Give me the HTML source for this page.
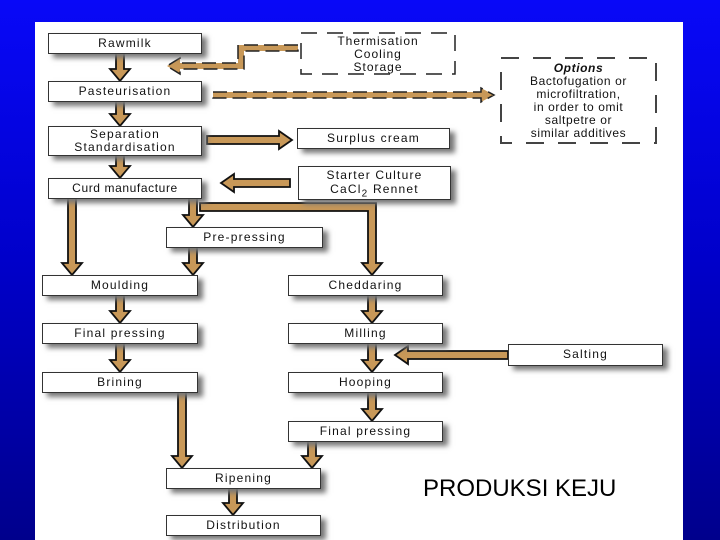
<!DOCTYPE html>
<html><head><meta charset="utf-8"><style>
html,body{margin:0;padding:0}
body{width:720px;height:540px;overflow:hidden;background:linear-gradient(#0808f8,#0000c8 50%,#00008c);position:relative;font-family:"Liberation Sans",sans-serif}
#panel{position:absolute;left:35px;top:22px;width:648px;height:518px;background:#fff}
.b{position:absolute;background:#fff;border:1.5px solid #333;box-shadow:5px 4px 5px #777;font-size:12px;letter-spacing:1.2px;text-align:center;line-height:19px;color:#111;box-sizing:border-box}
.d{position:absolute;font-size:12px;letter-spacing:1px;text-align:center;color:#111;line-height:13px}
svg{position:absolute;left:0;top:0}
</style></head><body>
<div id="panel"></div>
<svg width="720" height="540">
<g fill="#c89858" stroke="#111" stroke-width="1.8">
<path d="M116 53h8v16h6l-10 12-10-12h6z"/>
<path d="M116 101h8v13h6l-10 12-10-12h6z"/>
<path d="M116 155h8v11h6l-10 12-10-12h6z"/>
<path d="M68 198h8v65h6l-10 12-10-12h6z"/>
<path d="M189 198h8v17h6l-10 12-10-12h6z"/>
<path d="M189 247h8v16h6l-10 12-10-12h6z"/>
<path d="M200 203h176v60h6l-10 12-10-12h6v-52h-168z"/>
<path d="M116 295h8v16h6l-10 12-10-12h6z"/>
<path d="M116 343h8v17h6l-10 12-10-12h6z"/>
<path d="M178 392h8v64h6l-10 12-10-12h6z"/>
<path d="M368 295h8v16h6l-10 12-10-12h6z"/>
<path d="M368 343h8v17h6l-10 12-10-12h6z"/>
<path d="M368 392h8v17h6l-10 12-10-12h6z"/>
<path d="M308 441h8v15h6l-10 12-10-12h6z"/>
<path d="M229 488h8v15h6l-10 12-10-12h6z"/>
<path d="M207 136h72v-5l13 9-13 9v-5h-72z"/>
<path d="M290 179h-56v-5l-13 9 13 9v-5h56z"/>
<path d="M508 351h-100v-5l-13 9 13 9v-5h100z"/>
</g>
<g fill="#c89858" stroke="#222" stroke-width="1.5" stroke-dasharray="14 6">
<path d="M298 45h-60v18h-58v-5l-13 8 13 8v-5h64v-18h54z"/>
<path d="M213 92h268v-4l13 7-13 7v-4h-268z"/>
</g>
<g stroke="#222" stroke-width="1.5" fill="none" stroke-dasharray="16 10">
<rect x="301" y="33" width="154" height="41"/>
</g>
<g stroke="#444" stroke-width="2" fill="none" stroke-dasharray="18 14">
<rect x="501" y="58" width="155" height="85"/>
</g>
</svg>
<div class="b" style="left:48px;top:33px;width:154px;height:21px">Rawmilk</div>
<div class="b" style="left:48px;top:81px;width:154px;height:21px">Pasteurisation</div>
<div class="b" style="left:48px;top:126px;width:154px;height:30px;line-height:13px;padding-top:1px">Separation<br>Standardisation</div>
<div class="b" style="left:48px;top:178px;width:154px;height:21px;letter-spacing:0.6px">Curd manufacture</div>
<div class="b" style="left:166px;top:227px;width:157px;height:21px">Pre-pressing</div>
<div class="b" style="left:42px;top:275px;width:156px;height:21px">Moulding</div>
<div class="b" style="left:42px;top:323px;width:156px;height:21px">Final pressing</div>
<div class="b" style="left:42px;top:372px;width:156px;height:21px">Brining</div>
<div class="b" style="left:288px;top:275px;width:155px;height:21px">Cheddaring</div>
<div class="b" style="left:288px;top:323px;width:155px;height:21px">Milling</div>
<div class="b" style="left:288px;top:372px;width:155px;height:21px">Hooping</div>
<div class="b" style="left:288px;top:421px;width:155px;height:21px">Final pressing</div>
<div class="b" style="left:166px;top:468px;width:155px;height:21px">Ripening</div>
<div class="b" style="left:166px;top:515px;width:155px;height:21px">Distribution</div>
<div class="b" style="left:508px;top:344px;width:155px;height:22px">Salting</div>
<div class="b" style="left:297px;top:128px;width:153px;height:21px">Surplus cream</div>
<div class="b" style="left:298px;top:166px;width:153px;height:34px;line-height:14px;padding-top:1px">Starter Culture<br>CaCl<sub style="font-size:10px;line-height:0">2</sub> Rennet</div>
<div class="d" style="left:301px;top:35px;width:154px">Thermisation<br>Cooling<br>Storage</div>
<div class="d" style="left:501px;top:62px;width:155px;letter-spacing:0.6px"><b><i>Options</i></b><br>Bactofugation or<br>microfiltration,<br>in order to omit<br>saltpetre or<br>similar additives</div>
<div style="position:absolute;left:423px;top:475px;font-size:24px;color:#000">PRODUKSI KEJU</div>
</body></html>
